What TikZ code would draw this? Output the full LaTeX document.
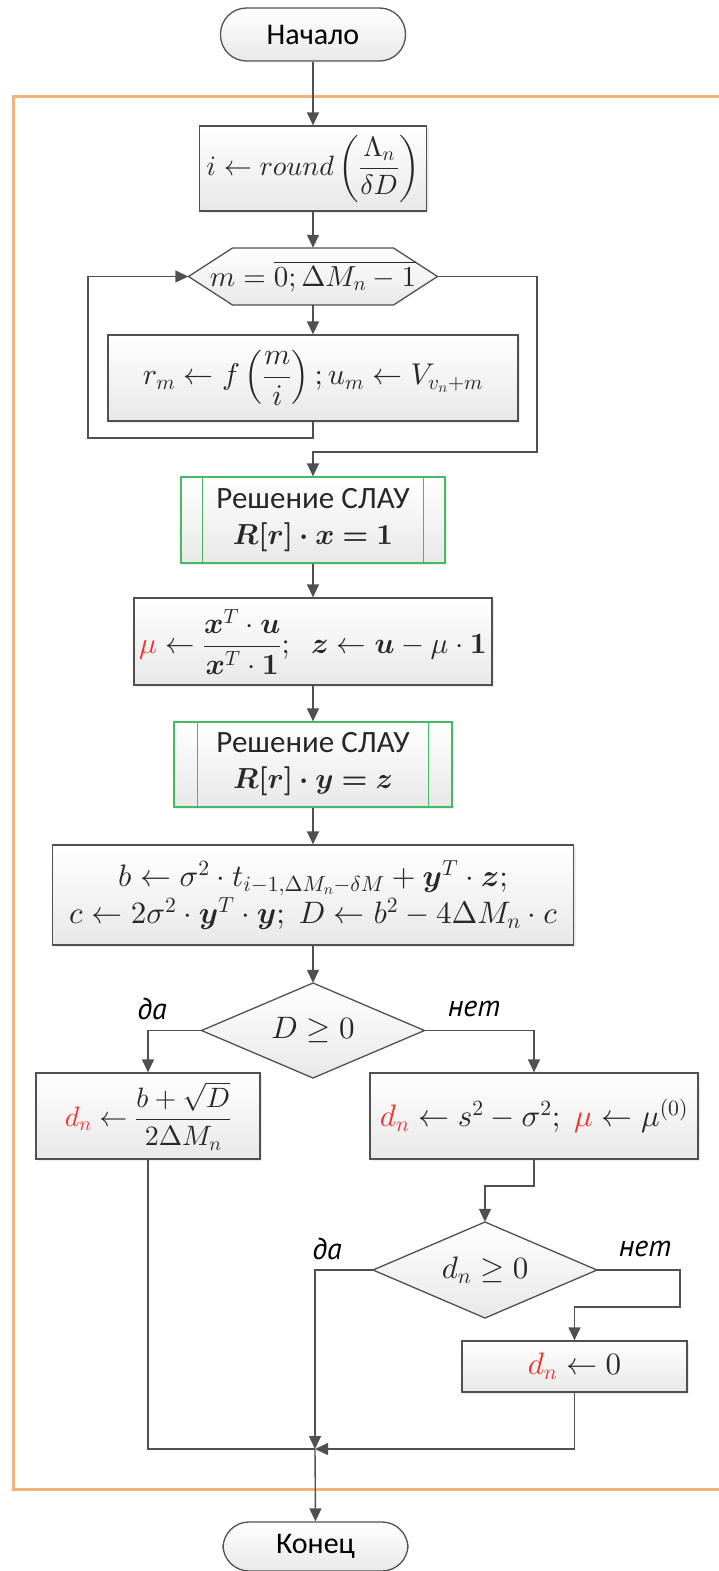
\documentclass[tikz,border=0pt]{standalone}
\usepackage{amsmath,bm}
\usepackage{fontspec}
\setmainfont{Carlito}
\newfontfamily\lblfont{PT Sans}
\DeclareFontShape{OML}{cmm}{m}{it}{<->cmmi10}{}
\DeclareFontShape{OML}{cmm}{b}{it}{<->cmmib10}{}
\DeclareFontShape{OMS}{cmsy}{m}{n}{<->cmsy10}{}
\DeclareFontShape{OMS}{cmsy}{b}{n}{<->cmbsy10}{}
\DeclareFontShape{OMX}{cmex}{m}{n}{<->cmex10}{}
\DeclareFontShape{OT1}{cmr}{m}{n}{<->cmr10}{}
\DeclareFontShape{OT1}{cmr}{bx}{n}{<->cmbx10}{}
\usetikzlibrary{arrows.meta,shadows}
\definecolor{ln}{RGB}{80,80,80}
\definecolor{frameorange}{RGB}{242,178,125}
\definecolor{slgreen}{RGB}{70,185,100}
\definecolor{hl}{RGB}{245,50,50}
\definecolor{tx}{RGB}{40,40,40}
\tikzset{
  base/.style={draw=ln, line width=1.3pt, top color=white, bottom color=black!9,
    text=tx, align=center, inner sep=2pt, font=\fontsize{31}{39}\selectfont},
  procbox/.style={base, drop shadow={opacity=0.15, shadow xshift=2pt, shadow yshift=-2pt}},
  term/.style={base, rounded corners=26pt, font=\fontsize{30}{36}\selectfont, text=black},
  slau/.style={procbox, draw=slgreen},
  shapefill/.style={draw=ln, line width=1.3pt, top color=white, bottom color=black!9},
  txt/.style={inner sep=0pt, text=tx, font=\fontsize{31}{39}\selectfont},
  fs/.style={font=\fontsize{#1}{39}\selectfont},
  conn/.style={draw=ln, line width=1.4pt},
  arr/.style={conn, -{Triangle[length=13pt,width=12pt]}},
  lbl/.style={inner sep=0pt, font=\fontsize{30}{34}\selectfont\lblfont\itshape, text=black},
}
\newcommand{\mathsz}{\fontsize{29}{39}\selectfont}
\begin{document}
\begin{tikzpicture}[x=1pt,y=-1pt]
\useasboundingbox (0,0) rectangle (719,1571);
% frame
\draw[frameorange, line width=3pt] (730,96) -- (13,96) -- (13,1489) -- (730,1489);

% nodes
\node[term, minimum width=185pt, minimum height=53pt] (start) at (313,34.5) {Начало};
\node[procbox, fs=28, inner sep=0pt, minimum width=227pt, minimum height=85pt] (ibox) at (313,168.5)
  {$i \leftarrow round\left(\dfrac{\Lambda_n}{\delta D}\right)$};

\path[shapefill] (188.5,276.5) -- (232.5,248) -- (393.5,248) -- (437.5,276.5) -- (393.5,305) -- (232.5,305) -- cycle;
\node[txt, fs=29, minimum width=249pt, minimum height=57pt] (hex) at (313,276.5)
  {$m = \overline{0; \Delta M_n - 1}$};

\node[procbox, fs=30, minimum width=410pt, minimum height=86pt] (rbox) at (313,378)
  {$r_m \leftarrow f\left(\dfrac{m}{i}\right); u_m \leftarrow V_{v_n+m}$};

\node[slau, minimum width=264pt, minimum height=86pt] (slau1) at (313,520)
  {Решение СЛАУ\\[-3pt] {\mathsz$\bm{R[r]\cdot x = 1}$}};
\draw[slgreen, line width=1.3pt] ([xshift=22pt]slau1.north west) -- ([xshift=22pt]slau1.south west);
\draw[slgreen, line width=1.3pt] ([xshift=-22pt]slau1.north east) -- ([xshift=-22pt]slau1.south east);

\node[procbox, fs=29.5, minimum width=358pt, minimum height=87pt] (mubox) at (313,641.5)
  {${\color{hl}\mu} \leftarrow \dfrac{\bm{x}^T\cdot \bm{u}}{\bm{x}^T\cdot \bm{1}};\;\; \bm{z} \leftarrow \bm{u} - \mu\cdot\bm{1}$};

\node[slau, minimum width=278pt, minimum height=85pt] (slau2) at (313,764.5)
  {Решение СЛАУ\\[-3pt] {\mathsz$\bm{R[r]\cdot y = z}$}};
\draw[slgreen, line width=1.3pt] ([xshift=24pt]slau2.north west) -- ([xshift=24pt]slau2.south west);
\draw[slgreen, line width=1.3pt] ([xshift=-24pt]slau2.north east) -- ([xshift=-24pt]slau2.south east);

\node[procbox, minimum width=521pt, minimum height=100pt] (bcbox) at (313,895)
  {$b \leftarrow \sigma^2\cdot t_{i-1,\Delta M_n-\delta M} + \bm{y}^T\cdot\bm{z};$\\[-2pt]
   $c \leftarrow 2\sigma^2\cdot\bm{y}^T\cdot\bm{y};\; D \leftarrow b^2 - 4\Delta M_n\cdot c$};

\path[shapefill] (201.5,1030.5) -- (313,983) -- (424.5,1030.5) -- (313,1078) -- cycle;
\node[txt, minimum width=223pt, minimum height=95pt] (dia1) at (313,1030.5) {$D \geq 0$};

\node[procbox, fs=28, minimum width=224pt, minimum height=86pt] (lbox) at (148,1116)
  {${\color{hl}d_n} \leftarrow \dfrac{b+\sqrt{D}}{2\Delta M_n}$};
\node[procbox, minimum width=328pt, minimum height=86pt] (rbox2) at (534,1116)
  {${\color{hl}d_n} \leftarrow s^2-\sigma^2;\; {\color{hl}\mu} \leftarrow \mu^{(0)}$};

\path[shapefill] (373,1270) -- (485,1222) -- (597,1270) -- (485,1318) -- cycle;
\node[txt, minimum width=224pt, minimum height=96pt] (dia2) at (485,1270) {$d_n \geq 0$};

\node[procbox, minimum width=225pt, minimum height=51pt] (zbox) at (574.5,1366.5)
  {${\color{hl}d_n} \leftarrow 0$};

\node[term, minimum width=185pt, minimum height=49pt] (end) at (315.5,1546.5) {Конец};

% labels
\node[lbl] (l1) at (152,1009) {да};
\node[lbl] (l2) at (474,1009) {нет};
\node[lbl] (l3) at (327,1249) {да};
\node[lbl] (l4) at (645,1249) {нет};

% coordinates
\coordinate (loopL) at (88,438);
\coordinate (loopR) at (537,452);
\coordinate (c1) at (534,1186);
\coordinate (c2) at (680,1307);
\coordinate (merge) at (315,1449);

% connectors
\draw[arr] (start) -- (ibox);
\draw[arr] (ibox) -- (hex);
\draw[arr] (hex) -- (rbox);
\draw[arr] (rbox.south) -- (rbox.south |- loopL) -- (loopL) -- (loopL |- hex.west) -- (hex.west);
\draw[arr] (hex.east) -- (loopR |- hex.east) -- (loopR) -- (slau1.north |- loopR) -- (slau1.north);
\draw[arr] (slau1) -- (mubox);
\draw[arr] (mubox) -- (slau2);
\draw[arr] (slau2) -- (bcbox);
\draw[arr] (bcbox) -- (dia1);
\draw[arr] (dia1.west) -| (lbox.north);
\draw[arr] (dia1.east) -| (rbox2.north);
\draw[arr] (rbox2.south) -- (c1) -| (dia2.north);
\draw[arr] (dia2.east) -- (c2 |- dia2.east) -- (c2) -| (zbox.north);
\draw[arr] (dia2.west) -| (merge);
\draw[conn] (lbox.south) |- (merge);
\draw[arr] (zbox.south) |- (merge);
\draw[arr] (merge) -- (end.north);
\end{tikzpicture}
\end{document}
